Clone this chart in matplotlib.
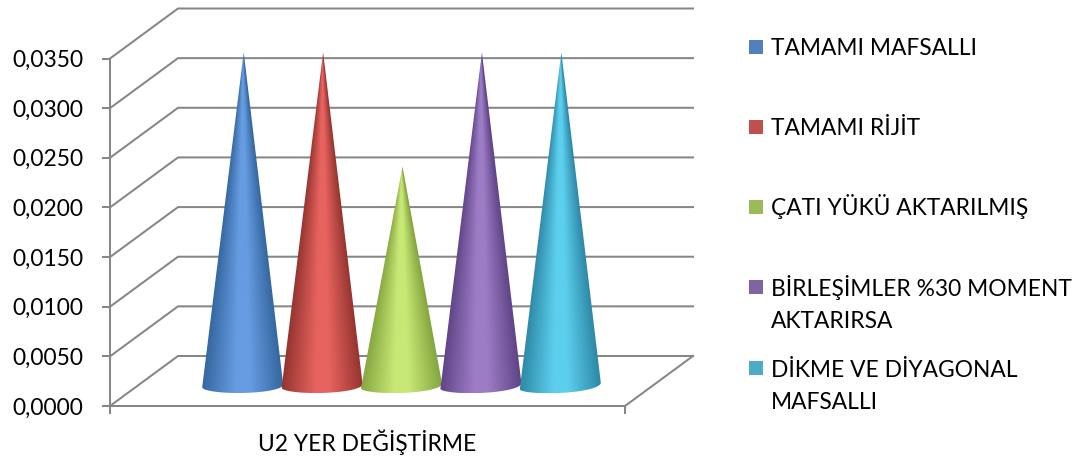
import numpy as np
import matplotlib
matplotlib.use("Agg")
import matplotlib.pyplot as plt
from matplotlib.colors import LinearSegmentedColormap
from matplotlib.patches import Polygon, Rectangle

plt.rcParams['font.family'] = ['Lato', 'DejaVu Sans']

category = "U2 YER DEĞİŞTİRME"
series = ["TAMAMI MAFSALLI", "TAMAMI RİJİT", "ÇATI YÜKÜ AKTARILMIŞ",
          "BİRLEŞİMLER %30 MOMENT\nAKTARIRSA", "DİKME VE DİYAGONAL\nMAFSALLI"]
values = [0.0331, 0.0331, 0.0216, 0.0331, 0.0331]
y_ticks = [0.0, 0.005, 0.010, 0.015, 0.020, 0.025, 0.030, 0.035]
y_labels = ["0,0000", "0,0050", "0,0100", "0,0150", "0,0200", "0,0250", "0,0300", "0,0350"]
swatch = ["#4F81BD", "#C0504D", "#9BBB59", "#8064A2", "#4BACC6"]
light = ["#669CE2", "#E7635F", "#C8E876", "#9D7CC6", "#5DCFEE"]
dark = ["#34659E", "#94342F", "#84A53E", "#5E4385", "#2D88A6"]
legend_rows = [47, 127, 207, 287, 368]
legend_baselines = [55, 135, 215, 328, 409]

W, H = 1087, 457
GRID = "#868686"
LW = 1.45
FS = 16.4

fig = plt.figure(figsize=(W / 100, H / 100), dpi=100, facecolor="white")
ax = fig.add_axes([110 / W, 1 - 406 / H, 515 / W, 347.5 / H])
ax.set_xlim(-0.5, 0.5)
ax.set_ylim(0, 0.035)
ax.patch.set_visible(False)

px_y = 0.035 / 347.5
dx = 68 / 515                # depth of the floor, x units
dy = 50 * px_y               # depth of the floor, y units
spacing = 79.4 / 515
half_w = 40.5 / 515
bulge = 7 * px_y             # front curve of a cone's base

# Walls and floor
for v in y_ticks:
    ax.plot([-0.5, -0.5 + dx, 0.5 + dx], [v, v + dy, v + dy],
            color=GRID, lw=LW, clip_on=False, solid_joinstyle="miter", zorder=1)
ax.plot([0.5, 0.5 + dx], [0, dy], color=GRID, lw=LW, clip_on=False, zorder=1)

for s in ["top", "right"]:
    ax.spines[s].set_visible(False)
for s in ["left", "bottom"]:
    ax.spines[s].set_color(GRID)
    ax.spines[s].set_linewidth(LW)
ax.set_yticks(y_ticks, y_labels, fontsize=FS)
ax.set_xticks([0], [category], fontsize=FS)
ax.set_xticks([-0.5, 0.5], minor=True)
ax.tick_params(axis="y", length=6, width=LW, color=GRID, pad=13, labelcolor="black")
ax.tick_params(axis="x", which="major", length=0, pad=17, labelcolor="black")
ax.tick_params(axis="x", which="minor", length=6, width=LW, color=GRID)

# Cones
floor_y = dy / 2
for i, v in enumerate(values):
    xc = dx / 2 + (i - 2) * spacing
    apex = floor_y + v
    tilt = (2.5 + i) * px_y
    th = np.linspace(0, np.pi, 60)
    base_x = xc - half_w * np.cos(th)
    base_y = floor_y - 0.0005 - bulge * np.sin(th) + tilt * (th / np.pi - 0.5)
    poly = Polygon(np.r_[np.c_[base_x, base_y], [[xc + 0.002, apex]]],
                   closed=True, transform=ax.transData, facecolor="none", edgecolor="none")
    ax.add_patch(poly)
    poly.set_clip_on(False)

    cmap = LinearSegmentedColormap.from_list(
        f"c{i}", [dark[i], light[i], light[i], dark[i]], N=256)
    ymin = base_y.min()
    xs = np.linspace(xc - half_w, xc + half_w, 220)
    ys = np.linspace(ymin, apex, 400)
    X, Y = np.meshgrid(xs, ys)
    frac = np.clip((apex - Y) / (apex - floor_y), 0.003, 1.3)
    u = (X - xc) / (half_w * frac)
    g = np.clip((u + 1) / 2, 0, 1)
    g = np.where(g < 0.45, g / 0.45 * 0.36, np.where(g < 0.55, 0.36 + (g - 0.45) / 0.1 * 0.28,
                 0.64 + (g - 0.55) / 0.45 * 0.36))
    im = ax.imshow(g, extent=(xs[0], xs[-1], ys[0], ys[-1]), origin="lower", cmap=cmap,
                   vmin=0, vmax=1, aspect="auto", zorder=2 + i, interpolation="bilinear")
    im.set_clip_box(fig.bbox)
    im.set_clip_path(poly)

ax.set_xlim(-0.5, 0.5)
ax.set_ylim(0, 0.035)

# Legend
for name, color, row, base in zip(series, swatch, legend_rows, legend_baselines):
    fig.add_artist(Rectangle((749 / W, 1 - (row + 7) / H), 14 / W, 14 / H,
                             transform=fig.transFigure, facecolor=color, edgecolor="none"))
    fig.text(771 / W, 1 - base / H, name, fontsize=FS, color="black",
             va="baseline", ha="left", linespacing=1.62)

fig.savefig("out.png", dpi=100, facecolor="white")
